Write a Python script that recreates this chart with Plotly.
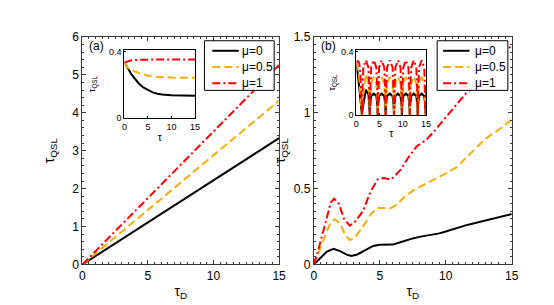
import plotly.graph_objects as go

# ---------------- data ----------------
# panel (a): main curves
tauD_a = [0, 15]
a_mu0 = [0, 3.33]
a_mu05 = [0, 4.32]
a_mu1 = [0, 5.26]

# panel (a) inset
tau_ia = [0, 0.5, 1, 1.5, 2, 2.5, 3, 4, 5, 6, 7, 8, 10, 12, 15]
ia_mu0 = [0.335, 0.31, 0.285, 0.263, 0.245, 0.226, 0.21, 0.185, 0.168, 0.155, 0.147, 0.142, 0.138, 0.136, 0.135]
ia_mu05 = [0.335, 0.31, 0.297, 0.289, 0.283, 0.277, 0.272, 0.262, 0.255, 0.25, 0.248, 0.246, 0.244, 0.243, 0.243]
ia_mu1 = [0.335, 0.34, 0.345, 0.347, 0.349, 0.35, 0.35, 0.351, 0.351, 0.352, 0.352, 0.352, 0.352, 0.352, 0.352]

# panel (b): main curves
tauD_b0 = [0, 0.5, 1.0, 1.5, 2.0, 2.5, 2.85, 3.3, 4.0, 4.5, 5.0, 5.5, 6.0, 6.5, 7.0, 7.5, 8.0, 8.5, 9.0,
           9.5, 10, 10.5, 11, 11.5, 12, 12.5, 13, 13.5, 14, 14.5, 15]
b_mu0 = [0, 0.04, 0.085, 0.104, 0.088, 0.065, 0.057, 0.066, 0.1, 0.122, 0.13, 0.129, 0.131, 0.145, 0.16, 0.172,
         0.182, 0.19, 0.196, 0.205, 0.218, 0.232, 0.248, 0.258, 0.268, 0.278, 0.288, 0.298, 0.31, 0.321, 0.333]
tauD_b05 = [0, 0.3, 0.6, 1.0, 1.3, 1.6, 2.0, 2.4, 2.75, 3.1, 3.5, 3.85, 4.3, 4.8, 5.3, 5.8, 6.3, 6.8, 7.5,
            8.0, 8.5, 9.3, 10.0, 10.8, 11.5, 12.2, 12.9, 13.5, 14.2, 15]
b_mu05 = [0, 0.06, 0.13, 0.22, 0.28, 0.298, 0.27, 0.19, 0.161, 0.175, 0.22, 0.266, 0.33, 0.372, 0.372, 0.37,
          0.395, 0.44, 0.487, 0.51, 0.53, 0.565, 0.6, 0.64, 0.7, 0.76, 0.82, 0.86, 0.9, 0.955]
tauD_b1 = [0, 0.3, 0.6, 1.0, 1.3, 1.55, 1.9, 2.3, 2.73, 3.1, 3.72, 4.3, 4.83, 5.3, 5.83, 6.2, 6.57, 7.2, 7.81,
           8.5, 9.2, 10.0, 10.8, 11.5, 12.2, 13.0, 13.7, 14.4, 15]
b_mu1 = [0, 0.08, 0.18, 0.32, 0.41, 0.434, 0.4, 0.3, 0.256, 0.28, 0.35, 0.48, 0.56, 0.57, 0.56, 0.59, 0.623,
         0.71, 0.78, 0.82, 0.886, 0.97, 1.05, 1.125, 1.18, 1.26, 1.33, 1.39, 1.445]

# panel (b) inset
tau_ib = [0, 0.3, 0.6, 0.9, 1.1, 1.2, 1.3, 1.5, 2.05, 2.6, 2.8, 2.9, 3.0, 3.2, 3.75, 4.3, 4.5, 4.6, 4.7, 4.9,
          5.45, 6.0, 6.2, 6.3, 6.4, 6.6, 7.2, 7.8, 8.0, 8.1, 8.2, 8.4, 8.95, 9.5, 9.7, 9.8, 9.9, 10.1, 10.65,
          11.2, 11.4, 11.5, 11.6, 11.8, 12.35, 12.9, 13.1, 13.2, 13.3, 13.5, 14.05, 14.6, 14.8, 14.9, 15.0]
ib_mu0 = [0.33, 0.27, 0.18, 0.09, 0.03, 0.0, 0.03, 0.06, 0.16, 0.13, 0.07, 0.0, 0.07, 0.12,
          0.135, 0.12, 0.07, 0.0, 0.07, 0.12, 0.135, 0.12, 0.07, 0.0, 0.07, 0.12,
          0.135, 0.12, 0.07, 0.0, 0.07, 0.12, 0.135, 0.12, 0.07, 0.0, 0.07, 0.12,
          0.135, 0.12, 0.07, 0.0, 0.07, 0.12, 0.135, 0.12, 0.07, 0.0, 0.07, 0.12,
          0.135, 0.12, 0.07, 0.0, 0.07]
ib_mu05 = [0.33, 0.3, 0.24, 0.14, 0.05, 0.0, 0.06, 0.14, 0.26, 0.2, 0.1, 0.0, 0.1, 0.2,
           0.24, 0.2, 0.1, 0.0, 0.1, 0.2, 0.24, 0.2, 0.1, 0.0, 0.1, 0.2,
           0.24, 0.2, 0.1, 0.0, 0.1, 0.2, 0.24, 0.2, 0.1, 0.0, 0.1, 0.2,
           0.24, 0.2, 0.1, 0.0, 0.1, 0.2, 0.24, 0.2, 0.1, 0.0, 0.1, 0.2,
           0.24, 0.2, 0.1, 0.0, 0.1]
ib_mu1 = [0.335, 0.34, 0.33, 0.25, 0.1, 0.0, 0.15, 0.3, 0.345, 0.3, 0.15, 0.0, 0.15, 0.3,
          0.345, 0.3, 0.15, 0.0, 0.15, 0.3, 0.345, 0.3, 0.15, 0.0, 0.15, 0.3,
          0.345, 0.3, 0.15, 0.0, 0.15, 0.3, 0.345, 0.3, 0.15, 0.0, 0.15, 0.3,
          0.345, 0.3, 0.15, 0.0, 0.15, 0.3, 0.345, 0.3, 0.15, 0.0, 0.15, 0.3,
          0.345, 0.3, 0.15, 0.0, 0.15]

legend_names = ["μ=0", "μ=0.5", "μ=1"]
x_ticks = [0, 5, 10, 15]
ya_ticks = [0, 1, 2, 3, 4, 5, 6]
yb_ticks = [0, 0.5, 1, 1.5]
yb_ticktext = ["0", "0.5", "1", "1.5"]

# ---------------- styles ----------------
BLACK = "#000000"
ORANGE = "#F2B10E"
RED = "#FF0000"
DASH = "8px,4px"
DASHDOT = "8px,3px,2px,3px"
colors = [BLACK, ORANGE, RED]
dashes = ["solid", DASH, DASHDOT]
FONT = "Liberation Sans, Arial, sans-serif"
AX = "#3a3a3a"

fig = go.Figure()

def add_set(x0, y0, x05, y05, x1, y1, xa, ya, w=2):
    for name, xs, ys, c, d in zip(legend_names, [x0, x05, x1], [y0, y05, y1], colors, dashes):
        fig.add_trace(go.Scatter(x=xs, y=ys, mode="lines", name=name, xaxis=xa, yaxis=ya,
                                 line=dict(color=c, width=w, dash=d), showlegend=False))

add_set(tauD_a, a_mu0, tauD_a, a_mu05, tauD_a, a_mu1, "x", "y")
add_set(tauD_b0, b_mu0, tauD_b05, b_mu05, tauD_b1, b_mu1, "x2", "y2")
add_set(tau_ia, ia_mu0, tau_ia, ia_mu05, tau_ia, ia_mu1, "x3", "y3")
add_set(tau_ib, ib_mu0, tau_ib, ib_mu05, tau_ib, ib_mu1, "x4", "y4")

W, H = 554, 305
def px(x): return x / W
def py(y): return 1 - y / H

# legends drawn as boxes with sample lines and text
shapes, annotations = [], []
def legend_box(x0, x1, y0, y1, lx0, lx1, tx, rows):
    shapes.append(dict(type="rect", xref="paper", yref="paper", x0=px(x0), x1=px(x1), y0=py(y1), y1=py(y0),
                       fillcolor="white", line=dict(color="#000", width=1), layer="above"))
    for name, c, d, ry in zip(legend_names, colors, dashes, rows):
        shapes.append(dict(type="line", xref="paper", yref="paper", x0=px(lx0), x1=px(lx1), y0=py(ry), y1=py(ry),
                           line=dict(color=c, width=2, dash=d), layer="above"))
        annotations.append(dict(text=name, x=px(tx), y=py(ry), xref="paper", yref="paper", xanchor="left",
                                yanchor="middle", showarrow=False, font=dict(size=12, family=FONT)))

legend_box(197, 268, 27, 79, 205, 232, 233, [37.5, 54.5, 71.5])
legend_box(434, 506, 27, 79, 440, 467, 470, [37.5, 54.5, 71.5])

annotations += [
    dict(text="(a)", x=px(77), y=py(33), xref="paper", yref="paper", xanchor="left",
         yanchor="middle", showarrow=False, font=dict(size=12, family=FONT)),
    dict(text="(b)", x=px(314), y=py(33), xref="paper", yref="paper", xanchor="left",
         yanchor="middle", showarrow=False, font=dict(size=12, family=FONT)),
]

main_common = dict(showline=True, linecolor=AX, linewidth=1, mirror="allticks", ticks="inside",
                   ticklen=4, tickcolor=AX, showgrid=False, zeroline=False,
                   tickfont=dict(size=12, family=FONT, color="#000"))
inset_common = dict(showline=True, linecolor="#000", linewidth=1, mirror=True, ticks="inside",
                    ticklen=2, tickcolor="#000", showgrid=False, zeroline=False,
                    tickfont=dict(size=9, family=FONT, color="#000"))

ytop, ybot = 23, 261.5
fig.update_layout(
    width=W, height=H, margin=dict(l=0, r=0, t=0, b=0),
    paper_bgcolor="white", plot_bgcolor="white",
    font=dict(family=FONT, color="#000"),
    showlegend=False,
    xaxis=dict(domain=[px(72.7), px(273)], range=[0, 15], tickvals=x_ticks, anchor="y",
               minor=dict(ticks="inside", ticklen=2, dtick=0.5, tickcolor=AX),
               title=dict(text="τ<sub>D</sub>", font=dict(size=14), standoff=4), **main_common),
    yaxis=dict(domain=[py(ybot), py(ytop)], range=[0, 6], tickvals=ya_ticks, anchor="x",
               minor=dict(ticks="inside", ticklen=2, dtick=0.2, tickcolor=AX),
               title=dict(text="τ<sub>QSL</sub>", font=dict(size=14), standoff=14), **main_common),
    xaxis2=dict(domain=[px(308.3), px(510)], range=[0, 15], tickvals=x_ticks, anchor="y2",
                minor=dict(ticks="inside", ticklen=2, dtick=0.5, tickcolor=AX),
                title=dict(text="τ<sub>D</sub>", font=dict(size=14), standoff=4), **main_common),
    yaxis2=dict(domain=[py(ybot), py(ytop)], range=[0, 1.5], tickvals=yb_ticks, ticktext=yb_ticktext,
                anchor="x2",
                minor=dict(ticks="inside", ticklen=2, dtick=0.05, tickcolor=AX),
                title=dict(text="τ<sub>QSL</sub>", font=dict(size=14), standoff=4), **main_common),
    xaxis3=dict(domain=[px(115.5), px(187.5)], range=[0, 15], tickvals=x_ticks, anchor="y3",
                title=dict(text="τ", font=dict(size=10), standoff=2), **inset_common),
    yaxis3=dict(domain=[py(108.3), py(36.5)], range=[0, 0.41], tickvals=[0, 0.4], anchor="x3",
                title=dict(text="τ<sub>QSL</sub>", font=dict(size=9), standoff=11), **inset_common),
    xaxis4=dict(domain=[px(351.7), px(422.7)], range=[0, 15], tickvals=x_ticks, anchor="y4",
                title=dict(text="τ", font=dict(size=10), standoff=2), **inset_common),
    yaxis4=dict(domain=[py(105), py(36.6)], range=[0, 0.41], tickvals=[0, 0.4], anchor="x4",
                title=dict(text="τ<sub>QSL</sub>", font=dict(size=9), standoff=3), **inset_common),
    shapes=shapes,
    annotations=annotations,
)

fig.write_html("out.html")
